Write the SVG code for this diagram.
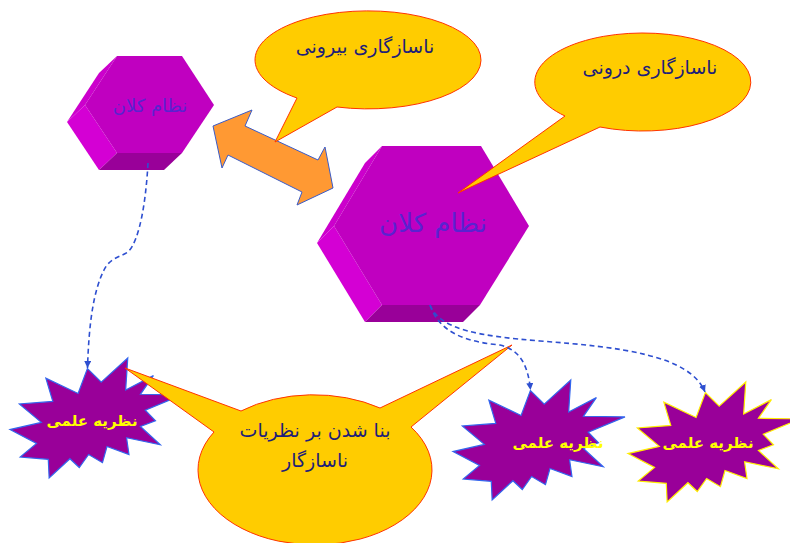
<svg xmlns="http://www.w3.org/2000/svg" width="790" height="543" viewBox="0 0 790 543">
<defs>
<style>
.front{fill:#C000C0}
.sideL{fill:#D400D4}
.sideU{fill:#CC00CC}
.bottom{fill:#990099}
.hextxt{font-family:"DejaVu Sans",sans-serif;fill:#5A22D0;text-anchor:middle}
.call{fill:#FFCC00;stroke:#FF3300;stroke-width:1}
.calltxt{font-family:"DejaVu Sans",sans-serif;fill:#1E1E78;text-anchor:middle;font-size:19px;letter-spacing:1.5px}
.star{fill:#990099;stroke-width:1.2}
.startxt{font-family:"DejaVu Sans",sans-serif;fill:#FFFF00;font-weight:bold;font-size:15px;text-anchor:middle}
.conn{fill:none;stroke:#2E4FD0;stroke-width:1.6;stroke-dasharray:5 3.5}
</style>
<marker id="ah" viewBox="0 0 10 10" refX="10" refY="5" markerWidth="7" markerHeight="7" markerUnits="userSpaceOnUse" orient="auto">
<path d="M0,0 L10,5 L0,10 Z" fill="#2E4FD0"/>
</marker>
<path id="seal" d="M91.27,24.12 L117.77,0 L115.66,32.09 L143.39,17.62 L130.43,36.29 L172,36.92 L135.25,52.23 L145.48,62.72 L130.43,68.39 L150.32,86.84 L116.58,79.72 L118.98,96.5 L96.99,88.53 L92.47,104.68 L78.61,96.5 L69.28,109.51 L59.94,100.69 L39.15,120 L38.26,101.33 L10.23,99.03 L26.52,85.39 L0,71.54 L31.33,64.4 L9.33,45.94 L42.78,43.43 L35.85,20.14 L68.08,35.46 L77.41,10.48 Z"/>
</defs>
<rect width="790" height="543" fill="#FFFFFF"/>

<g id="hex-small">
<polygon class="sideU" points="117,56 85,105 67,122 99,73"/>
<polygon class="sideL" points="85,105 117,153 99,170 67,122"/>
<polygon class="bottom" points="117,153 182,153 164,170 99,170"/>
<polygon class="front" points="117,56 182,56 214,105 182,153 117,153 85,105"/>
<text class="hextxt" x="150" y="112" font-size="18">نظام کلان</text>
</g>

<g id="hex-big">
<polygon class="sideU" points="382,146 334,226 317,243 365,163"/>
<polygon class="sideL" points="334,226 382,305 365,322 317,243"/>
<polygon class="bottom" points="382,305 480,305 463,322 365,322"/>
<polygon class="front" points="382,146 481,146 529,226 480,305 382,305 334,226"/>
<text class="hextxt" x="433" y="232" font-size="26">نظام کلان</text>
</g>

<g id="double-arrow">
<polygon points="213,126 252,110 245,126 318,160 325,147 333,188 297,205 302,192 228,155 222,168" fill="#FF9933" stroke="#3A5BC8" stroke-width="1"/>
</g>

<g id="callout-outer">
<path class="call" d="M337,107 A113,49 0 1 0 297,98 L275,142 Z"/>
<text class="calltxt" x="365" y="53">ناسازگاری بیرونی</text>
</g>

<g id="callout-inner">
<path class="call" d="M600,127 A108,49 0 1 0 565,116 L458,193 Z"/>
<text class="calltxt" x="650" y="74">ناسازگاری درونی</text>
</g>

<g id="star-1">
<use href="#seal" x="10" y="358" class="star" stroke="#3366EE"/>
<text class="startxt" x="92" y="426">نظریه علمی</text>
</g>
<g id="star-2">
<use href="#seal" x="453" y="380" class="star" stroke="#3366EE"/>
<text class="startxt" x="558" y="448">نظریه علمی</text>
</g>
<g id="star-3">
<use href="#seal" x="628" y="382" class="star" stroke="#FFEE00"/>
<text class="startxt" x="708" y="448">نظریه علمی</text>
</g>

<g id="callout-theories">
<path class="call" d="M241,411 L125,368 L214,432 A117,75 0 1 0 411,427 L512,345 L380,408 A117,75 0 0 0 241,411 Z"/>
<text class="calltxt" x="315" y="437">بنا شدن بر نظریات</text>
<text class="calltxt" x="315" y="467">ناسازگار</text>
</g>

<g id="connectors">
<path class="conn" marker-end="url(#ah)" d="M148,163 C146,200 140,240 128,252 C118,258 110,258 104,270 C94,290 89,320 87.5,368"/>
<path class="conn" marker-end="url(#ah)" d="M430,305 C440,335 470,342 500,345 C520,350 528,365 530.5,390"/>
<path class="conn" marker-end="url(#ah)" d="M430,305 C440,330 480,336 540,341 C620,347 690,355 705,392"/>
</g>
</svg>
